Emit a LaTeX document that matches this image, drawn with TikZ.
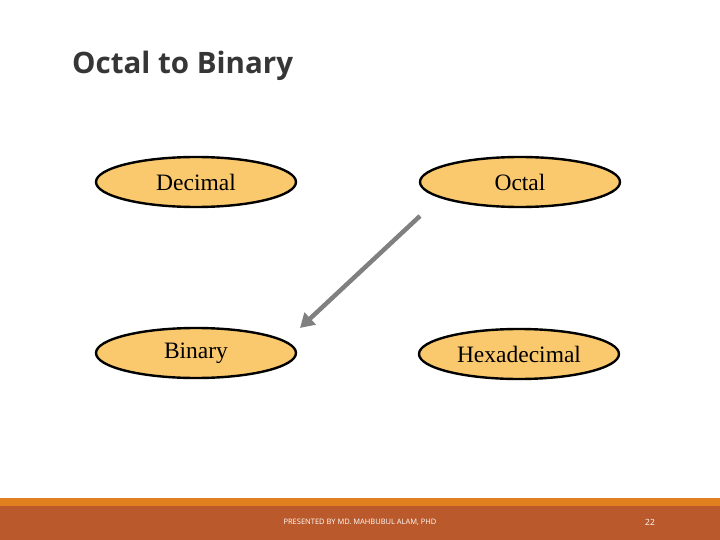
\documentclass[tikz,border=0pt]{standalone}
\usepackage{fontspec}
\setmainfont{Liberation Serif}
\newfontfamily\titlefont{Open Sans}
\usetikzlibrary{shapes.geometric,arrows.meta}
\definecolor{ellfill}{HTML}{FAC96E}
\definecolor{stripe}{HTML}{E0801E}
\definecolor{footbg}{HTML}{BA5A2C}
\definecolor{titlec}{HTML}{363636}
\definecolor{arrowc}{HTML}{808080}
\begin{document}
\begin{tikzpicture}[x=1pt,y=-1pt,
  numbox/.style={ellipse,draw=black,line width=2.4pt,fill=ellfill,minimum width=200pt,minimum height=50pt,inner sep=0pt,font=\fontsize{23.5}{25}\selectfont},
  convarrow/.style={draw=arrowc,line width=4.5pt,-{Triangle[length=14pt,width=16pt]}}]
\useasboundingbox (0,0) rectangle (720,540);
\fill[white] (0,0) rectangle (720,540);
\fill[stripe] (0,498) rectangle (720,506);
\fill[footbg] (0,506) rectangle (720,540);
\node[anchor=base west,inner sep=0pt,text=titlec,font=\titlefont\bfseries\fontsize{29.5}{32}\selectfont] (title) at (72,74) {Octal to Binary};
\node[numbox] (dec) at (196,182) {Decimal};
\node[numbox] (oct) at (520,182) {Octal};
\node[numbox] (bin) at (196,353) {Binary};
\node[numbox] (hex) at (519,354) {Hexadecimal};
\coordinate (a1) at (420,216);
\coordinate (a2) at (300,328);
\draw[convarrow] (a1) -- (a2);
\node[text=white,font=\titlefont\fontsize{7.5}{9}\selectfont,inner sep=0pt] (foot) at (360,522) {PRESENTED BY MD. MAHBUBUL ALAM, PHD};
\node[text=white,font=\titlefont\fontsize{8.5}{9}\selectfont,inner sep=0pt] (pg) at (650,522) {22};
\end{tikzpicture}
\end{document}
